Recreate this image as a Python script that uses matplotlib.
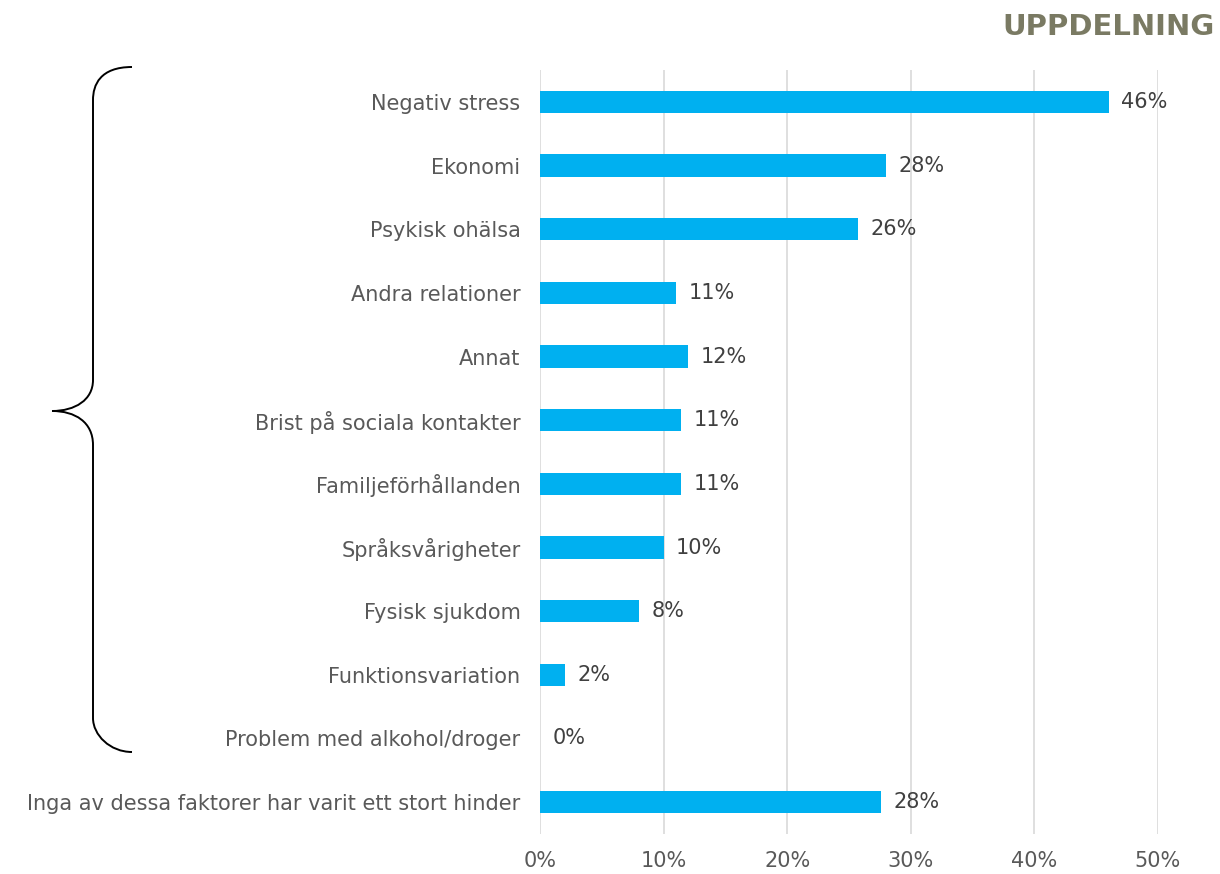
import matplotlib
matplotlib.use("Agg")
import matplotlib.pyplot as plt
from matplotlib.path import Path
from matplotlib.patches import PathPatch
import numpy as np

categories = [
    "Negativ stress",
    "Ekonomi",
    "Psykisk ohälsa",
    "Andra relationer",
    "Annat",
    "Brist på sociala kontakter",
    "Familjeförhållanden",
    "Språksvårigheter",
    "Fysisk sjukdom",
    "Funktionsvariation",
    "Problem med alkohol/droger",
    "Inga av dessa faktorer har varit ett stort hinder",
]
values = [46.0, 28.0, 25.7, 11.0, 12.0, 11.4, 11.4, 10.0, 8.0, 2.0, 0.0, 27.6]
value_labels = ["46%", "28%", "26%", "11%", "12%", "11%", "11%", "10%", "8%", "2%", "0%", "28%"]
xticks = [0, 10, 20, 30, 40, 50]
xtick_labels = ["0%", "10%", "20%", "30%", "40%", "50%"]
title = "UPPDELNING"

W, H = 1220, 874
fig = plt.figure(figsize=(W / 100, H / 100), dpi=100)
ax = fig.add_axes([540 / W, 1 - 834 / H, (1158 - 540) / W, (834 - 70) / H])

FS = 15
y = np.arange(len(categories))
ax.barh(y, values, height=0.35, color="#00B0F0", zorder=3)
ax.set_ylim(len(categories) - 0.5, -0.5)
ax.set_xlim(0, 50)
ax.set_yticks(y)
ax.set_yticklabels(categories, fontsize=FS, color="#595959")
ax.set_xticks(xticks)
ax.set_xticklabels(xtick_labels, fontsize=FS, color="#595959")
ax.tick_params(axis="both", length=0)
ax.tick_params(axis="y", pad=14)
ax.tick_params(axis="x", pad=12)
ax.grid(axis="x", color="#d9d9d9", linewidth=1.2, zorder=0)
for s in ax.spines.values():
    s.set_visible(False)

for yi, v, lab in zip(y, values, value_labels):
    ax.annotate(lab, (v, yi), xytext=(9, 0), textcoords="offset points",
                va="center", ha="left", fontsize=FS, color="#404040")

fig.text(1215 / W, 1 - 27 / H, title, ha="right", va="center",
         fontsize=21, fontweight="bold", color="#7a7a63")

# brace
def px(x, yy):
    return (x / W, 1 - yy / H)

verts = [
    px(132, 67), px(100, 67), px(93, 85), px(93, 100),
    px(93, 380),
    px(93, 400), px(75, 411), px(52, 411),
    px(75, 411), px(93, 422), px(93, 445),
    px(93, 718),
    px(93, 735), px(110, 752), px(132, 752),
]
codes = [Path.MOVETO, Path.CURVE4, Path.CURVE4, Path.CURVE4,
         Path.LINETO,
         Path.CURVE4, Path.CURVE4, Path.CURVE4,
         Path.CURVE4, Path.CURVE4, Path.CURVE4,
         Path.LINETO,
         Path.CURVE4, Path.CURVE4, Path.CURVE4]
patch = PathPatch(Path(verts, codes), facecolor="none", edgecolor="black",
                  linewidth=1.4, transform=fig.transFigure)
fig.patches.append(patch)

fig.savefig("out.png", dpi=100)
